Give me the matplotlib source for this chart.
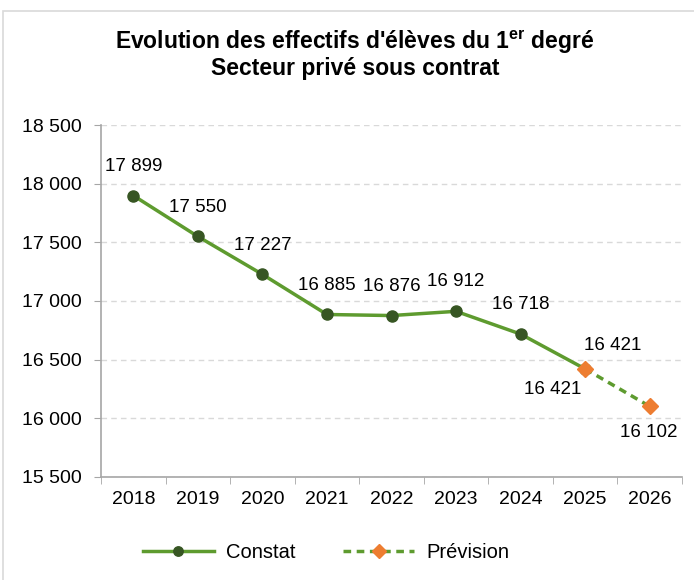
import matplotlib.pyplot as plt
import numpy as np
from matplotlib.patches import Rectangle

plt.rcParams['font.family'] = ['Liberation Sans', 'DejaVu Sans']
plt.rcParams['mathtext.fontset'] = 'custom'
plt.rcParams['mathtext.bf'] = 'Liberation Sans:bold'
plt.rcParams['mathtext.rm'] = 'Liberation Sans'

years = ['2018', '2019', '2020', '2021', '2022', '2023', '2024', '2025', '2026']
constat = [17899, 17550, 17227, 16885, 16876, 16912, 16718, 16421]
prevision = [16421, 16102]
yticks = [15500, 16000, 16500, 17000, 17500, 18000, 18500]

green = '#5e9b2f'
dark_green = '#375623'
orange = '#ed7d31'
axis_gray = '#a6a6a6'


def fmt(v):
    return '{:,}'.format(v).replace(',', ' ')


fig = plt.figure(figsize=(6.94, 5.80), dpi=100)
ax = fig.add_axes([101 / 694, 1 - 477 / 580, 581 / 694, 352 / 580])

x_c = np.arange(len(constat))
x_p = np.arange(len(constat) - 1, len(constat) - 1 + len(prevision))

ax.plot(x_c, constat, color=green, lw=2.5, marker='o', ms=8,
        mfc=dark_green, mec=dark_green, label='Constat', zorder=3)
ax.plot(x_p, prevision, color=green, lw=2.5, ls=(0, (2.2, 1.6)), marker='D', ms=8,
        mfc=orange, mec=orange, label='Prévision', zorder=4)

# data labels
for i, v in enumerate(constat[:-1]):
    ax.annotate(fmt(v), (x_c[i], v), xytext=(0, 15), textcoords='offset points',
                ha='center', va='bottom', fontsize=13.5)
ax.annotate(fmt(constat[-1]), (x_c[-1], constat[-1]), xytext=(-3, -9),
            textcoords='offset points', ha='right', va='top', fontsize=13.5)
ax.annotate(fmt(prevision[0]), (x_p[0], prevision[0]), xytext=(-1, 11),
            textcoords='offset points', ha='left', va='bottom', fontsize=13.5)
ax.annotate(fmt(prevision[1]), (x_p[1], prevision[1]), xytext=(-1, -13),
            textcoords='offset points', ha='center', va='top', fontsize=13.5)

ax.set_xlim(-0.5, len(years) - 0.5)
ax.set_ylim(15500, 18500)
ax.set_yticks(yticks)
ax.set_yticklabels([fmt(t) for t in yticks], fontsize=14)
ax.set_xticks(np.arange(len(years)))
ax.set_xticklabels(years, fontsize=14)
ax.tick_params(axis='x', length=0, pad=10)
ax.set_xticks(np.arange(-0.5, len(years) + 0.5), minor=True)
ax.tick_params(axis='x', which='minor', length=5, color=axis_gray)
ax.tick_params(axis='y', length=5, color=axis_gray, pad=9)

ax.grid(axis='y', color='#d9d9d9', ls=(0, (4, 3)), lw=1)
ax.set_axisbelow(True)
for s in ['top', 'right']:
    ax.spines[s].set_visible(False)
for s in ['left', 'bottom']:
    ax.spines[s].set_color(axis_gray)
    ax.spines[s].set_linewidth(1.2)

fig.text(355 / 694, 1 - 42 / 580,
         "Evolution des effectifs d'élèves du 1$^{\\mathbf{er}}$ degré",
         ha='center', va='center', fontsize=16.5, fontweight='bold')
fig.text(355 / 694, 1 - 69 / 580, 'Secteur privé sous contrat',
         ha='center', va='center', fontsize=16.5, fontweight='bold')

fig.legend(loc='center', bbox_to_anchor=(326 / 694, 1 - 553 / 580), ncol=2,
           frameon=False, fontsize=14.5, handlelength=3.5, columnspacing=2.4,
           handletextpad=0.6, markerscale=0.85)

fig.patches.append(Rectangle((3 / 694, -0.05), 1.1, 1 - 11 / 580 + 0.05,
                             transform=fig.transFigure, fill=False,
                             edgecolor='#d9d9d9', lw=1.2))

fig.savefig('out.png', dpi=100)
